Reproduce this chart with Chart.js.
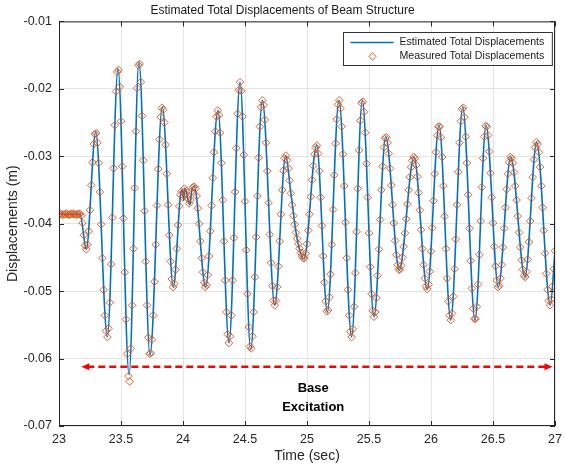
<!DOCTYPE html>
<html>
<head>
<meta charset="utf-8">
<title>Beam displacements</title>
<script src="https://cdn.jsdelivr.net/npm/chart.js@4/dist/chart.umd.min.js"></script>
<style>
  html, body { margin: 0; padding: 0; background: #fff; }
  #wrap { width: 565px; height: 467px; }
</style>
</head>
<body>
<div id="wrap"><canvas id="beamChart" width="565" height="467"></canvas></div>
<script>
// axis ticks
const xTicks = [23, 23.5, 24, 24.5, 25, 25.5, 26, 26.5, 27];
const yTicks = [-0.07, -0.06, -0.05, -0.04, -0.03, -0.02, -0.01];

// estimated response: turning points of the fitted curve (s, m)
const lineTime = [23.00, 23.17, 23.22, 23.296, 23.39, 23.476, 23.565, 23.645, 23.734, 23.833,
  23.922, 23.98, 23.995, 24.005, 24.015, 24.03, 24.045, 24.055, 24.07, 24.09,
  24.183, 24.282, 24.371, 24.46, 24.546, 24.64, 24.74, 24.828, 24.87, 24.92,
  24.976, 25.078, 25.164, 25.258, 25.36, 25.446, 25.54, 25.635, 25.744, 25.863,
  25.97, 26.065, 26.159, 26.256, 26.355, 26.444, 26.543, 26.643, 26.758, 26.852,
  26.962, 27.00];
const lineDisp = [-0.0386, -0.0386, -0.0438, -0.0264, -0.0568, -0.0170, -0.0624, -0.0160, -0.0595, -0.0227,
  -0.0494, -0.0357, -0.0350, -0.0365, -0.0347, -0.0355, -0.0368, -0.0372, -0.0352, -0.0344,
  -0.0494, -0.0232, -0.0577, -0.0190, -0.0587, -0.0217, -0.0521, -0.0299, -0.0355, -0.0422,
  -0.0452, -0.0284, -0.0531, -0.0217, -0.0568, -0.0217, -0.0538, -0.0271, -0.0469, -0.0301,
  -0.0497, -0.0254, -0.0543, -0.0227, -0.0543, -0.0254, -0.0494, -0.0301, -0.0479, -0.0279,
  -0.0521, -0.0440];

// measured displacements, sampled every 0.01 s, one array per second
const sampleStep = 0.01;
const meas23 = [
  -0.0386, -0.0385, -0.0386, -0.0387, -0.0386, -0.0386, -0.0385, -0.0386, -0.0387, -0.0386,
  -0.0386, -0.0385, -0.0386, -0.0386, -0.0387, -0.0386, -0.0386, -0.0385, -0.0388, -0.0399,
  -0.0417, -0.0432, -0.0438, -0.0431, -0.0411, -0.0380, -0.0343, -0.0309, -0.0282, -0.0267,
  -0.0266, -0.0280, -0.0310, -0.0353, -0.0401, -0.0451, -0.0498, -0.0536, -0.0559, -0.0568,
  -0.0555, -0.0517, -0.0460, -0.0391, -0.0318, -0.0254, -0.0204, -0.0175, -0.0172, -0.0197,
  -0.0248, -0.0315, -0.0392, -0.0472, -0.0542, -0.0593, -0.0626, -0.0634, -0.0585, -0.0521,
  -0.0437, -0.0347, -0.0263, -0.0199, -0.0165, -0.0163, -0.0190, -0.0240, -0.0306, -0.0381,
  -0.0456, -0.0521, -0.0569, -0.0593, -0.0592, -0.0572, -0.0536, -0.0486, -0.0431, -0.0373,
  -0.0319, -0.0275, -0.0242, -0.0228, -0.0231, -0.0250, -0.0283, -0.0326, -0.0372, -0.0417,
  -0.0456, -0.0482, -0.0494, -0.0489, -0.0468, -0.0437, -0.0402, -0.0374, -0.0357, -0.0352
];
const meas24 = [
  -0.0361, -0.0348, -0.0356, -0.0352, -0.0363, -0.0370, -0.0365, -0.0352, -0.0346, -0.0345,
  -0.0348, -0.0359, -0.0377, -0.0400, -0.0426, -0.0451, -0.0472, -0.0487, -0.0494, -0.0491,
  -0.0476, -0.0448, -0.0411, -0.0373, -0.0332, -0.0294, -0.0263, -0.0241, -0.0232, -0.0239,
  -0.0265, -0.0310, -0.0365, -0.0426, -0.0484, -0.0531, -0.0564, -0.0577, -0.0567, -0.0536,
  -0.0484, -0.0421, -0.0353, -0.0288, -0.0237, -0.0202, -0.0190, -0.0203, -0.0241, -0.0298,
  -0.0367, -0.0439, -0.0504, -0.0553, -0.0582, -0.0585, -0.0567, -0.0531, -0.0479, -0.0420,
  -0.0359, -0.0302, -0.0256, -0.0227, -0.0217, -0.0224, -0.0246, -0.0280, -0.0322, -0.0369,
  -0.0416, -0.0458, -0.0492, -0.0514, -0.0521, -0.0514, -0.0494, -0.0463, -0.0426, -0.0386,
  -0.0350, -0.0321, -0.0303, -0.0299, -0.0306, -0.0318, -0.0336, -0.0355, -0.0372, -0.0388,
  -0.0401, -0.0413, -0.0422, -0.0430, -0.0437, -0.0443, -0.0448, -0.0451, -0.0451, -0.0444
];
const meas25 = [
  -0.0430, -0.0410, -0.0386, -0.0360, -0.0335, -0.0314, -0.0297, -0.0287, -0.0284, -0.0296,
  -0.0322, -0.0361, -0.0403, -0.0448, -0.0487, -0.0515, -0.0530, -0.0528, -0.0509, -0.0475,
  -0.0431, -0.0379, -0.0328, -0.0281, -0.0245, -0.0223, -0.0217, -0.0229, -0.0256, -0.0297,
  -0.0344, -0.0398, -0.0451, -0.0498, -0.0536, -0.0560, -0.0568, -0.0556, -0.0523, -0.0473,
  -0.0412, -0.0348, -0.0291, -0.0247, -0.0221, -0.0219, -0.0234, -0.0265, -0.0311, -0.0361,
  -0.0414, -0.0464, -0.0504, -0.0529, -0.0538, -0.0531, -0.0510, -0.0477, -0.0438, -0.0394,
  -0.0350, -0.0315, -0.0287, -0.0273, -0.0272, -0.0280, -0.0296, -0.0318, -0.0343, -0.0372,
  -0.0399, -0.0425, -0.0446, -0.0461, -0.0468, -0.0468, -0.0462, -0.0450, -0.0434, -0.0414,
  -0.0393, -0.0371, -0.0350, -0.0331, -0.0316, -0.0306, -0.0301, -0.0303, -0.0313, -0.0330,
  -0.0354, -0.0380, -0.0409, -0.0437, -0.0461, -0.0481, -0.0493, -0.0497, -0.0490, -0.0471
];
const meas26 = [
  -0.0441, -0.0406, -0.0366, -0.0326, -0.0294, -0.0269, -0.0256, -0.0256, -0.0272, -0.0301,
  -0.0344, -0.0389, -0.0437, -0.0481, -0.0515, -0.0536, -0.0543, -0.0533, -0.0508, -0.0467,
  -0.0423, -0.0372, -0.0323, -0.0280, -0.0248, -0.0230, -0.0228, -0.0242, -0.0271, -0.0310,
  -0.0357, -0.0407, -0.0455, -0.0496, -0.0526, -0.0541, -0.0541, -0.0523, -0.0490, -0.0446,
  -0.0396, -0.0346, -0.0303, -0.0271, -0.0255, -0.0256, -0.0269, -0.0293, -0.0325, -0.0361,
  -0.0399, -0.0434, -0.0463, -0.0484, -0.0494, -0.0492, -0.0481, -0.0461, -0.0435, -0.0407,
  -0.0376, -0.0349, -0.0326, -0.0309, -0.0301, -0.0303, -0.0310, -0.0324, -0.0344, -0.0365,
  -0.0389, -0.0413, -0.0435, -0.0454, -0.0468, -0.0477, -0.0479, -0.0471, -0.0453, -0.0427,
  -0.0396, -0.0362, -0.0331, -0.0305, -0.0287, -0.0279, -0.0282, -0.0294, -0.0316, -0.0344,
  -0.0376, -0.0410, -0.0444, -0.0474, -0.0498, -0.0514, -0.0521, -0.0512, -0.0493, -0.0467,
  -0.0440
];

// base excitation marker
const excitationFrom = 23.18;
const excitationTo = 26.98;
const excitationLevel = -0.0612;

const FONT = 'Arial, "Liberation Sans", sans-serif';
const BLUE = '#0072bd';
const ORANGE = '#d95319';
const AXIS = '#262626';

const estimated = lineTime.map((t, i) => ({ x: t, y: lineDisp[i] }));
const measured = [];
[[23, meas23], [24, meas24], [25, meas25], [26, meas26]].forEach(([sec, vals]) => {
  vals.forEach((v, i) => measured.push({ x: +(sec + i * sampleStep).toFixed(2), y: v }));
});

// box, inward ticks, legend and the excitation arrow
const decorations = {
  id: 'decorations',
  afterDatasetsDraw(chart) {
    const { ctx, chartArea: a, scales: { x, y } } = chart;
    ctx.save();

    // excitation arrow
    const ay = y.getPixelForValue(excitationLevel);
    const ax0 = x.getPixelForValue(excitationFrom);
    const ax1 = x.getPixelForValue(excitationTo);
    ctx.strokeStyle = '#ff0000';
    ctx.fillStyle = '#ff0000';
    ctx.lineWidth = 2.5;
    ctx.setLineDash([7, 4]);
    ctx.beginPath();
    ctx.moveTo(ax0 + 6, ay);
    ctx.lineTo(ax1 - 6, ay);
    ctx.stroke();
    ctx.setLineDash([]);
    ctx.beginPath();
    ctx.moveTo(ax0, ay);
    ctx.lineTo(ax0 + 8, ay - 3.5);
    ctx.lineTo(ax0 + 8, ay + 3.5);
    ctx.closePath();
    ctx.fill();
    ctx.beginPath();
    ctx.moveTo(ax1, ay);
    ctx.lineTo(ax1 - 8, ay - 3.5);
    ctx.lineTo(ax1 - 8, ay + 3.5);
    ctx.closePath();
    ctx.fill();

    ctx.fillStyle = '#000';
    ctx.font = 'bold 13px ' + FONT;
    ctx.textAlign = 'center';
    ctx.textBaseline = 'middle';
    ctx.fillText('Base', x.getPixelForValue(25.05), y.getPixelForValue(-0.0645));
    ctx.fillText('Excitation', x.getPixelForValue(25.05), y.getPixelForValue(-0.0672));

    // axes box with inward tick marks
    ctx.strokeStyle = AXIS;
    ctx.lineWidth = 1;
    ctx.strokeRect(a.left + 0.5, a.top + 0.5, a.width - 1, a.height - 1);
    ctx.beginPath();
    xTicks.forEach(v => {
      const px = Math.round(x.getPixelForValue(v)) + 0.5;
      ctx.moveTo(px, a.bottom); ctx.lineTo(px, a.bottom - 5);
      ctx.moveTo(px, a.top); ctx.lineTo(px, a.top + 5);
    });
    yTicks.forEach(v => {
      const py = Math.round(y.getPixelForValue(v)) + 0.5;
      ctx.moveTo(a.left, py); ctx.lineTo(a.left + 5, py);
      ctx.moveTo(a.right, py); ctx.lineTo(a.right - 5, py);
    });
    ctx.stroke();

    // legend
    ctx.font = '10.6px ' + FONT;
    ctx.textAlign = 'left';
    const labels = chart.data.datasets.map(d => d.label);
    const textW = Math.max(...labels.map(l => ctx.measureText(l).width));
    const lw = 56 + textW + 8;
    const lh = 33;
    const lx = Math.round(a.right - 3 - lw) + 0.5;
    const ly = Math.round(a.top + 11) + 0.5;
    ctx.fillStyle = '#fff';
    ctx.fillRect(lx, ly, lw, lh);
    ctx.strokeStyle = '#333';
    ctx.strokeRect(lx, ly, lw, lh);

    const r1 = ly + 10, r2 = ly + 24;
    ctx.strokeStyle = BLUE;
    ctx.lineWidth = 1.6;
    ctx.beginPath();
    ctx.moveTo(lx + 7, r1);
    ctx.lineTo(lx + 50, r1);
    ctx.stroke();

    ctx.strokeStyle = ORANGE;
    ctx.lineWidth = 0.9;
    ctx.beginPath();
    const cx = lx + 29;
    ctx.moveTo(cx, r2 - 3.8); ctx.lineTo(cx + 3.5, r2); ctx.lineTo(cx, r2 + 3.8); ctx.lineTo(cx - 3.5, r2);
    ctx.closePath();
    ctx.stroke();

    ctx.fillStyle = '#1a1a1a';
    ctx.textBaseline = 'middle';
    ctx.fillText(labels[0], lx + 56, r1);
    ctx.fillText(labels[1], lx + 56, r2);
    ctx.restore();
  }
};

const tickFont = { family: FONT, size: 12.5 };

new Chart(document.getElementById('beamChart'), {
  type: 'line',
  data: {
    datasets: [{
      label: 'Estimated Total Displacements',
      data: estimated,
      borderColor: BLUE,
      borderWidth: 1.6,
      pointRadius: 0,
      cubicInterpolationMode: 'monotone',
      order: 2
    }, {
      label: 'Measured Total Displacements',
      data: measured,
      showLine: false,
      pointStyle: 'rectRot',
      pointRadius: 3.8,
      pointBorderWidth: 0.9,
      pointBorderColor: ORANGE,
      pointBackgroundColor: 'rgba(0,0,0,0)',
      order: 1
    }]
  },
  options: {
    responsive: false,
    animation: false,
    events: [],
    layout: { padding: 0 },
    plugins: {
      legend: { display: false },
      tooltip: { enabled: false },
      title: {
        display: true,
        text: 'Estimated Total Displacements of Beam Structure',
        color: '#1a1a1a',
        font: { family: FONT, size: 12, weight: 'normal' },
        padding: { top: 3, bottom: 4 }
      }
    },
    scales: {
      x: {
        type: 'linear',
        min: 23,
        max: 27,
        afterBuildTicks: s => { s.ticks = xTicks.map(v => ({ value: v })); },
        afterFit: s => { s.height = 41; s.paddingLeft = 0; s.paddingRight = 10; },
        grid: { color: '#e4e4e4', drawTicks: false },
        border: { display: false },
        ticks: { color: AXIS, font: tickFont, padding: 6, maxRotation: 0, autoSkip: false, callback: v => String(v) },
        title: { display: true, text: 'Time (sec)', color: AXIS, font: { family: FONT, size: 14 }, padding: { top: 0, bottom: 2 } }
      },
      y: {
        min: -0.07,
        max: -0.01,
        afterBuildTicks: s => { s.ticks = yTicks.map(v => ({ value: v })); },
        afterFit: s => { s.width = 59; },
        grid: { color: '#e4e4e4', drawTicks: false },
        border: { display: false },
        ticks: { color: AXIS, font: tickFont, padding: 7, autoSkip: false, callback: v => String(v) },
        title: { display: true, text: 'Displacements (m)', color: AXIS, font: { family: FONT, size: 14 }, padding: { top: 5, bottom: 0 } }
      }
    }
  },
  plugins: [decorations]
});
</script>
</body>
</html>
